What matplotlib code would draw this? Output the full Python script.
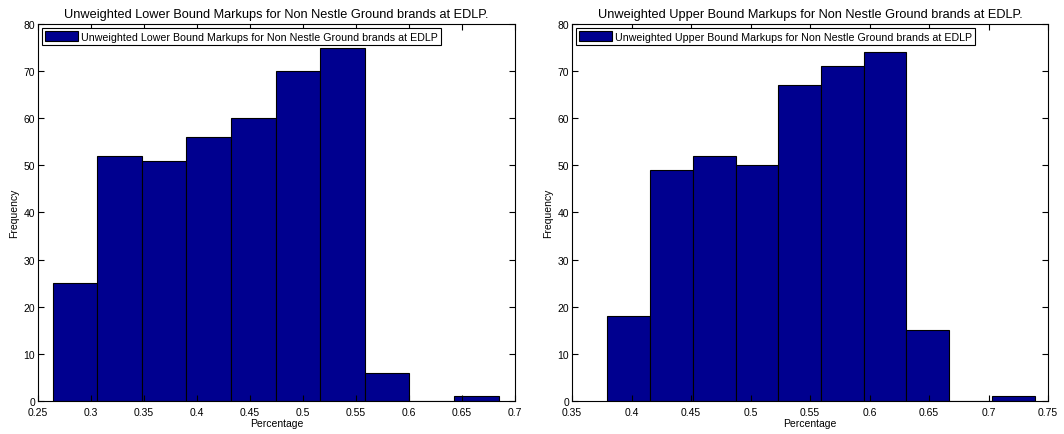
import numpy as np
import matplotlib
matplotlib.use("Agg")
import matplotlib.pyplot as plt

plt.rcParams['font.family'] = ['Liberation Sans', 'DejaVu Sans']

# histogram bins (10 bins each)
lower_start = 0.2639
lower_width = 0.0421
lower_counts = [25, 52, 51, 56, 60, 70, 75, 6, 0, 1]

upper_start = 0.3797
upper_width = 0.0359
upper_counts = [18, 49, 52, 50, 67, 71, 74, 15, 0, 1]

lower_title = "Unweighted Lower Bound Markups for Non Nestle Ground brands at EDLP"
upper_title = "Unweighted Upper Bound Markups for Non Nestle Ground brands at EDLP"

lower_xticks = [0.25, 0.3, 0.35, 0.4, 0.45, 0.5, 0.55, 0.6, 0.65, 0.7]
upper_xticks = [0.35, 0.4, 0.45, 0.5, 0.55, 0.6, 0.65, 0.7, 0.75]

fig = plt.figure(figsize=(10.64, 4.35), dpi=100)
ax1 = fig.add_axes([0.0357, 0.0759, 0.448, 0.8667])
ax2 = fig.add_axes([0.5376, 0.0759, 0.4474, 0.8667])

def draw(ax, start, width, counts, name, xticks):
    edges = start + width * np.arange(len(counts))
    ax.bar(edges, counts, width=width, align='edge', color='#00008f',
           edgecolor='black', linewidth=0.8, label=name)
    ax.set_xlim(xticks[0], xticks[-1])
    ax.set_ylim(0, 80)
    ax.set_xticks(xticks)
    ax.set_xticklabels([('%g' % t) for t in xticks])
    ax.set_yticks(range(0, 81, 10))
    ax.tick_params(direction='in', top=True, right=True, labelsize=7.5,
                   length=4, width=0.8)
    ax.tick_params(axis='x', pad=4)
    ax.tick_params(axis='y', pad=2)
    for s in ax.spines.values():
        s.set_linewidth(0.8)
    ax.set_title(name + ".", fontsize=9.2, pad=5)
    ax.set_xlabel("Percentage", fontsize=7.5, labelpad=1)
    ax.set_ylabel("Frequency", fontsize=7.5, labelpad=3)
    leg = ax.legend(loc='upper left', fontsize=7.7, fancybox=False,
                    edgecolor='black', framealpha=1, borderaxespad=0.4,
                    handlelength=3.0, handleheight=1.0, borderpad=0.3,
                    handletextpad=0.3)
    leg.get_frame().set_linewidth(0.8)

draw(ax1, lower_start, lower_width, lower_counts, lower_title, lower_xticks)
draw(ax2, upper_start, upper_width, upper_counts, upper_title, upper_xticks)

fig.savefig("out.png", dpi=100)
